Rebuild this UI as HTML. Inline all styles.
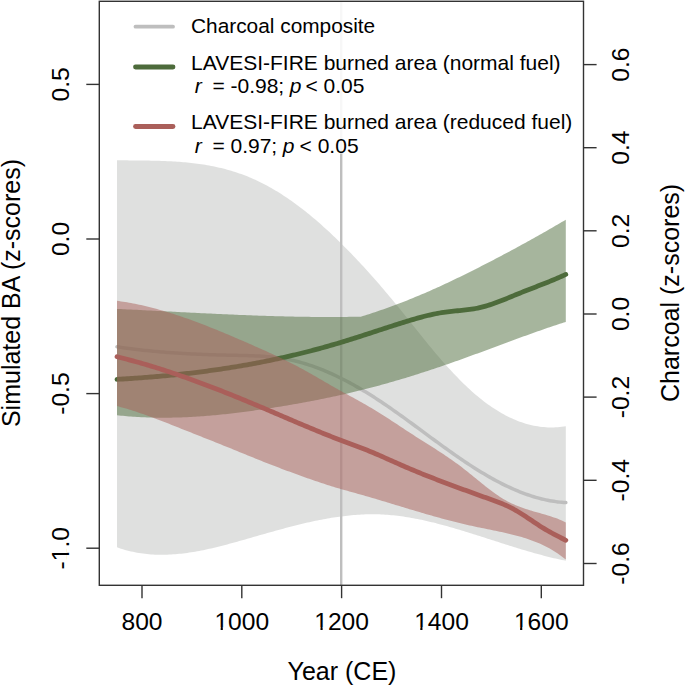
<!DOCTYPE html>
<html><head><meta charset="utf-8"><style>
html,body{margin:0;padding:0;background:#fff;width:685px;height:686px;overflow:hidden}
svg{display:block}
text{fill:#000;white-space:pre}
</style></head><body>
<svg width="685" height="686" viewBox="0 0 685 686"><path d="M117.00 160.21 L119.00 160.24 L121.01 160.27 L123.01 160.30 L125.01 160.33 L127.02 160.35 L129.02 160.38 L131.03 160.40 L133.03 160.42 L135.03 160.44 L137.04 160.46 L139.04 160.48 L141.04 160.51 L143.05 160.53 L145.05 160.56 L147.05 160.59 L149.06 160.62 L151.06 160.66 L153.06 160.70 L155.07 160.75 L157.07 160.80 L159.07 160.86 L161.08 160.92 L163.08 160.99 L165.09 161.07 L167.09 161.16 L169.09 161.25 L171.10 161.35 L173.10 161.47 L175.10 161.59 L177.11 161.72 L179.11 161.86 L181.11 162.01 L183.12 162.17 L185.12 162.35 L187.12 162.54 L189.13 162.74 L191.13 162.95 L193.14 163.18 L195.14 163.43 L197.14 163.68 L199.15 163.96 L201.15 164.25 L203.15 164.55 L205.16 164.87 L207.16 165.21 L209.16 165.57 L211.17 165.95 L213.17 166.34 L215.18 166.75 L217.18 167.19 L219.18 167.64 L221.19 168.11 L223.19 168.61 L225.19 169.12 L227.20 169.66 L229.20 170.22 L231.20 170.81 L233.21 171.41 L235.21 172.05 L237.21 172.70 L239.22 173.38 L241.22 174.09 L243.22 174.82 L245.23 175.58 L247.23 176.37 L249.24 177.18 L251.24 178.02 L253.24 178.89 L255.25 179.79 L257.25 180.72 L259.25 181.67 L261.26 182.66 L263.26 183.68 L265.26 184.72 L267.27 185.80 L269.27 186.90 L271.27 188.03 L273.28 189.19 L275.28 190.38 L277.29 191.59 L279.29 192.83 L281.29 194.10 L283.30 195.40 L285.30 196.72 L287.30 198.07 L289.31 199.45 L291.31 200.85 L293.31 202.28 L295.32 203.73 L297.32 205.21 L299.32 206.72 L301.33 208.24 L303.33 209.80 L305.34 211.37 L307.34 212.98 L309.34 214.60 L311.35 216.25 L313.35 217.92 L315.35 219.62 L317.36 221.34 L319.36 223.08 L321.36 224.84 L323.37 226.63 L325.37 228.43 L327.38 230.26 L329.38 232.11 L331.38 233.98 L333.39 235.88 L335.39 237.79 L337.39 239.72 L339.40 241.68 L341.40 243.65 L343.40 245.64 L345.41 247.65 L347.41 249.69 L349.41 251.74 L351.42 253.81 L353.42 255.90 L355.43 258.00 L357.43 260.13 L359.43 262.27 L361.44 264.43 L363.44 266.61 L365.44 268.80 L367.45 271.01 L369.45 273.24 L371.45 275.48 L373.46 277.74 L375.46 280.02 L377.46 282.31 L379.47 284.62 L381.47 286.95 L383.48 289.28 L385.48 291.64 L387.48 294.01 L389.49 296.40 L391.49 298.80 L393.49 301.21 L395.50 303.64 L397.50 306.09 L399.50 308.55 L401.51 311.02 L403.51 313.50 L405.51 315.99 L407.52 318.49 L409.52 321.00 L411.52 323.51 L413.53 326.03 L415.53 328.55 L417.54 331.06 L419.54 333.57 L421.54 336.08 L423.55 338.56 L425.55 341.04 L427.55 343.49 L429.56 345.93 L431.56 348.35 L433.56 350.75 L435.57 353.13 L437.57 355.49 L439.57 357.82 L441.58 360.13 L443.58 362.41 L445.59 364.67 L447.59 366.90 L449.59 369.10 L451.60 371.27 L453.60 373.42 L455.60 375.53 L457.61 377.60 L459.61 379.65 L461.61 381.66 L463.62 383.63 L465.62 385.57 L467.62 387.47 L469.63 389.33 L471.63 391.15 L473.64 392.93 L475.64 394.66 L477.64 396.36 L479.65 398.01 L481.65 399.61 L483.65 401.18 L485.66 402.69 L487.66 404.17 L489.66 405.60 L491.67 406.98 L493.67 408.32 L495.68 409.62 L497.68 410.87 L499.68 412.07 L501.69 413.24 L503.69 414.35 L505.69 415.42 L507.70 416.45 L509.70 417.43 L511.70 418.37 L513.71 419.26 L515.71 420.10 L517.71 420.90 L519.72 421.65 L521.72 422.36 L523.73 423.02 L525.73 423.64 L527.73 424.21 L529.74 424.74 L531.74 425.22 L533.74 425.65 L535.75 426.03 L537.75 426.37 L539.75 426.67 L541.76 426.92 L543.76 427.12 L545.76 427.27 L547.77 427.38 L549.77 427.44 L551.77 427.45 L553.78 427.42 L555.78 427.34 L557.79 427.22 L559.79 427.04 L561.79 426.82 L563.80 426.55 L565.80 426.24 L565.80 560.77 L563.80 560.36 L561.79 559.94 L559.79 559.50 L557.79 559.05 L555.78 558.60 L553.78 558.13 L551.77 557.65 L549.77 557.16 L547.77 556.66 L545.76 556.15 L543.76 555.63 L541.76 555.10 L539.75 554.56 L537.75 554.02 L535.75 553.46 L533.74 552.90 L531.74 552.33 L529.74 551.76 L527.73 551.17 L525.73 550.59 L523.73 549.99 L521.72 549.39 L519.72 548.79 L517.71 548.18 L515.71 547.56 L513.71 546.94 L511.70 546.32 L509.70 545.69 L507.70 545.06 L505.69 544.43 L503.69 543.79 L501.69 543.15 L499.68 542.51 L497.68 541.87 L495.68 541.23 L493.67 540.59 L491.67 539.94 L489.66 539.30 L487.66 538.65 L485.66 538.01 L483.65 537.37 L481.65 536.72 L479.65 536.08 L477.64 535.44 L475.64 534.81 L473.64 534.17 L471.63 533.54 L469.63 532.91 L467.62 532.29 L465.62 531.67 L463.62 531.05 L461.61 530.44 L459.61 529.84 L457.61 529.24 L455.60 528.64 L453.60 528.06 L451.60 527.47 L449.59 526.90 L447.59 526.34 L445.59 525.78 L443.58 525.23 L441.58 524.69 L439.57 524.16 L437.57 523.63 L435.57 523.12 L433.56 522.62 L431.56 522.13 L429.56 521.65 L427.55 521.18 L425.55 520.72 L423.55 520.28 L421.54 519.84 L419.54 519.42 L417.54 519.02 L415.53 518.63 L413.53 518.25 L411.52 517.88 L409.52 517.54 L407.52 517.20 L405.51 516.89 L403.51 516.58 L401.51 516.30 L399.50 516.03 L397.50 515.78 L395.50 515.55 L393.49 515.33 L391.49 515.13 L389.49 514.96 L387.48 514.80 L385.48 514.66 L383.48 514.54 L381.47 514.44 L379.47 514.36 L377.46 514.30 L375.46 514.26 L373.46 514.25 L371.45 514.25 L369.45 514.27 L367.45 514.31 L365.44 514.36 L363.44 514.44 L361.44 514.53 L359.43 514.65 L357.43 514.77 L355.43 514.92 L353.42 515.08 L351.42 515.26 L349.41 515.45 L347.41 515.66 L345.41 515.89 L343.40 516.13 L341.40 516.38 L339.40 516.65 L337.39 516.93 L335.39 517.23 L333.39 517.54 L331.38 517.86 L329.38 518.19 L327.38 518.54 L325.37 518.90 L323.37 519.27 L321.36 519.65 L319.36 520.04 L317.36 520.45 L315.35 520.86 L313.35 521.29 L311.35 521.72 L309.34 522.17 L307.34 522.62 L305.34 523.08 L303.33 523.55 L301.33 524.03 L299.32 524.51 L297.32 525.01 L295.32 525.51 L293.31 526.01 L291.31 526.53 L289.31 527.05 L287.30 527.57 L285.30 528.10 L283.30 528.64 L281.29 529.18 L279.29 529.73 L277.29 530.28 L275.28 530.83 L273.28 531.39 L271.27 531.95 L269.27 532.51 L267.27 533.08 L265.26 533.65 L263.26 534.22 L261.26 534.79 L259.25 535.37 L257.25 535.94 L255.25 536.52 L253.24 537.09 L251.24 537.67 L249.24 538.24 L247.23 538.82 L245.23 539.39 L243.22 539.96 L241.22 540.53 L239.22 541.10 L237.21 541.66 L235.21 542.22 L233.21 542.77 L231.20 543.32 L229.20 543.87 L227.20 544.40 L225.19 544.93 L223.19 545.45 L221.19 545.97 L219.18 546.47 L217.18 546.97 L215.18 547.45 L213.17 547.93 L211.17 548.39 L209.16 548.84 L207.16 549.29 L205.16 549.71 L203.15 550.13 L201.15 550.53 L199.15 550.92 L197.14 551.29 L195.14 551.64 L193.14 551.98 L191.13 552.31 L189.13 552.61 L187.12 552.90 L185.12 553.17 L183.12 553.42 L181.11 553.65 L179.11 553.87 L177.11 554.06 L175.10 554.23 L173.10 554.37 L171.10 554.50 L169.09 554.60 L167.09 554.68 L165.09 554.73 L163.08 554.76 L161.08 554.77 L159.07 554.75 L157.07 554.70 L155.07 554.63 L153.06 554.52 L151.06 554.39 L149.06 554.24 L147.05 554.05 L145.05 553.83 L143.05 553.58 L141.04 553.30 L139.04 552.99 L137.04 552.65 L135.03 552.28 L133.03 551.87 L131.03 551.43 L129.02 550.95 L127.02 550.44 L125.01 549.89 L123.01 549.31 L121.01 548.69 L119.00 548.03 L117.00 547.34 Z" fill="#bfc1bf" fill-opacity="0.5"/>
<line x1="341.2" y1="153.3" x2="341.2" y2="585" stroke="#bebebe" stroke-width="2.4"/>
<line x1="341.2" y1="2" x2="341.2" y2="153.3" stroke="#f7f7f7" stroke-width="2.4"/>
<path d="M117.00 346.79 L119.00 347.09 L121.01 347.39 L123.01 347.67 L125.01 347.95 L127.02 348.23 L129.02 348.49 L131.03 348.75 L133.03 349.01 L135.03 349.25 L137.04 349.49 L139.04 349.73 L141.04 349.95 L143.05 350.18 L145.05 350.39 L147.05 350.60 L149.06 350.81 L151.06 351.00 L153.06 351.20 L155.07 351.38 L157.07 351.56 L159.07 351.74 L161.08 351.91 L163.08 352.08 L165.09 352.24 L167.09 352.39 L169.09 352.54 L171.10 352.69 L173.10 352.83 L175.10 352.96 L177.11 353.09 L179.11 353.22 L181.11 353.34 L183.12 353.46 L185.12 353.57 L187.12 353.68 L189.13 353.79 L191.13 353.89 L193.14 353.99 L195.14 354.08 L197.14 354.17 L199.15 354.26 L201.15 354.34 L203.15 354.42 L205.16 354.50 L207.16 354.57 L209.16 354.64 L211.17 354.71 L213.17 354.77 L215.18 354.83 L217.18 354.89 L219.18 354.95 L221.19 355.00 L223.19 355.05 L225.19 355.10 L227.20 355.14 L229.20 355.19 L231.20 355.23 L233.21 355.27 L235.21 355.31 L237.21 355.35 L239.22 355.39 L241.22 355.43 L243.22 355.48 L245.23 355.53 L247.23 355.59 L249.24 355.65 L251.24 355.72 L253.24 355.80 L255.25 355.88 L257.25 355.98 L259.25 356.09 L261.26 356.21 L263.26 356.34 L265.26 356.49 L267.27 356.65 L269.27 356.83 L271.27 357.03 L273.28 357.24 L275.28 357.47 L277.29 357.72 L279.29 357.99 L281.29 358.29 L283.30 358.60 L285.30 358.94 L287.30 359.31 L289.31 359.70 L291.31 360.12 L293.31 360.56 L295.32 361.03 L297.32 361.53 L299.32 362.05 L301.33 362.60 L303.33 363.17 L305.34 363.77 L307.34 364.39 L309.34 365.04 L311.35 365.71 L313.35 366.40 L315.35 367.12 L317.36 367.86 L319.36 368.63 L321.36 369.41 L323.37 370.22 L325.37 371.05 L327.38 371.91 L329.38 372.78 L331.38 373.68 L333.39 374.59 L335.39 375.53 L337.39 376.49 L339.40 377.46 L341.40 378.46 L343.40 379.48 L345.41 380.51 L347.41 381.57 L349.41 382.64 L351.42 383.73 L353.42 384.84 L355.43 385.97 L357.43 387.11 L359.43 388.27 L361.44 389.45 L363.44 390.64 L365.44 391.85 L367.45 393.08 L369.45 394.32 L371.45 395.58 L373.46 396.85 L375.46 398.13 L377.46 399.44 L379.47 400.75 L381.47 402.08 L383.48 403.42 L385.48 404.78 L387.48 406.15 L389.49 407.52 L391.49 408.91 L393.49 410.32 L395.50 411.73 L397.50 413.15 L399.50 414.57 L401.51 416.01 L403.51 417.45 L405.51 418.90 L407.52 420.36 L409.52 421.82 L411.52 423.28 L413.53 424.75 L415.53 426.22 L417.54 427.70 L419.54 429.17 L421.54 430.65 L423.55 432.13 L425.55 433.61 L427.55 435.09 L429.56 436.56 L431.56 438.04 L433.56 439.51 L435.57 440.98 L437.57 442.44 L439.57 443.91 L441.58 445.36 L443.58 446.81 L445.59 448.26 L447.59 449.69 L449.59 451.12 L451.60 452.54 L453.60 453.95 L455.60 455.36 L457.61 456.75 L459.61 458.13 L461.61 459.50 L463.62 460.86 L465.62 462.20 L467.62 463.53 L469.63 464.85 L471.63 466.15 L473.64 467.44 L475.64 468.71 L477.64 469.96 L479.65 471.20 L481.65 472.42 L483.65 473.62 L485.66 474.81 L487.66 475.97 L489.66 477.12 L491.67 478.25 L493.67 479.35 L495.68 480.44 L497.68 481.51 L499.68 482.55 L501.69 483.58 L503.69 484.58 L505.69 485.56 L507.70 486.51 L509.70 487.45 L511.70 488.36 L513.71 489.25 L515.71 490.11 L517.71 490.95 L519.72 491.76 L521.72 492.55 L523.73 493.31 L525.73 494.04 L527.73 494.75 L529.74 495.43 L531.74 496.09 L533.74 496.71 L535.75 497.31 L537.75 497.88 L539.75 498.42 L541.76 498.93 L543.76 499.41 L545.76 499.86 L547.77 500.28 L549.77 500.67 L551.77 501.02 L553.78 501.35 L555.78 501.64 L557.79 501.90 L559.79 502.13 L561.79 502.32 L563.80 502.48 L565.80 502.61" fill="none" stroke="#bebebe" stroke-width="3.5" stroke-linecap="round" stroke-linejoin="round"/>
<path d="M117.00 308.90 L119.00 308.99 L121.00 309.09 L123.00 309.18 L125.00 309.28 L127.00 309.38 L129.00 309.47 L130.99 309.57 L132.99 309.67 L134.99 309.77 L136.99 309.87 L138.99 309.97 L140.99 310.07 L142.99 310.17 L144.99 310.27 L146.99 310.38 L148.99 310.48 L150.99 310.58 L152.99 310.68 L154.98 310.79 L156.98 310.89 L158.98 310.99 L160.98 311.10 L162.98 311.20 L164.98 311.30 L166.98 311.41 L168.98 311.51 L170.98 311.61 L172.98 311.72 L174.98 311.82 L176.98 311.92 L178.97 312.02 L180.97 312.13 L182.97 312.23 L184.97 312.33 L186.97 312.43 L188.97 312.53 L190.97 312.64 L192.97 312.74 L194.97 312.84 L196.97 312.94 L198.97 313.04 L200.97 313.14 L202.96 313.23 L204.96 313.33 L206.96 313.43 L208.96 313.53 L210.96 313.62 L212.96 313.72 L214.96 313.81 L216.96 313.90 L218.96 314.00 L220.96 314.09 L222.96 314.18 L224.96 314.27 L226.95 314.36 L228.95 314.45 L230.95 314.54 L232.95 314.62 L234.95 314.71 L236.95 314.79 L238.95 314.88 L240.95 314.96 L242.95 315.04 L244.95 315.12 L246.95 315.20 L248.95 315.27 L250.95 315.35 L252.94 315.43 L254.94 315.50 L256.94 315.57 L258.94 315.64 L260.94 315.71 L262.94 315.78 L264.94 315.84 L266.94 315.91 L268.94 315.97 L270.94 316.03 L272.94 316.09 L274.94 316.15 L276.93 316.21 L278.93 316.26 L280.93 316.32 L282.93 316.37 L284.93 316.42 L286.93 316.46 L288.93 316.51 L290.93 316.55 L292.93 316.59 L294.93 316.63 L296.93 316.67 L298.93 316.71 L300.92 316.74 L302.92 316.77 L304.92 316.80 L306.92 316.83 L308.92 316.86 L310.92 316.88 L312.92 316.90 L314.92 316.92 L316.92 316.94 L318.92 316.95 L320.92 316.96 L322.92 316.97 L324.91 316.98 L326.91 316.98 L328.91 316.98 L330.91 316.98 L332.91 316.98 L334.91 316.97 L336.91 316.96 L338.91 316.95 L340.91 316.94 L342.91 316.92 L344.91 316.90 L346.91 316.88 L348.90 316.86 L350.90 316.83 L352.90 316.80 L354.90 316.77 L356.90 316.73 L358.90 316.69 L360.90 316.65 L362.91 316.03 L364.92 315.41 L366.93 314.77 L368.94 314.13 L370.94 313.48 L372.95 312.82 L374.96 312.15 L376.97 311.48 L378.98 310.79 L380.99 310.10 L383.00 309.40 L385.01 308.69 L387.01 307.98 L389.02 307.25 L391.03 306.52 L393.04 305.78 L395.05 305.03 L397.06 304.28 L399.07 303.51 L401.08 302.74 L403.09 301.96 L405.09 301.17 L407.10 300.38 L409.11 299.57 L411.12 298.76 L413.13 297.95 L415.14 297.12 L417.15 296.29 L419.16 295.44 L421.16 294.60 L423.17 293.74 L425.18 292.88 L427.19 292.00 L429.20 291.13 L431.21 290.24 L433.22 289.35 L435.23 288.45 L437.24 287.54 L439.24 286.63 L441.25 285.71 L443.26 284.78 L445.27 283.85 L447.28 282.91 L449.29 281.96 L451.30 281.01 L453.31 280.05 L455.31 279.09 L457.32 278.12 L459.33 277.15 L461.34 276.17 L463.35 275.18 L465.36 274.19 L467.37 273.20 L469.38 272.20 L471.39 271.20 L473.39 270.19 L475.40 269.18 L477.41 268.16 L479.42 267.14 L481.43 266.12 L483.44 265.09 L485.45 264.06 L487.46 263.02 L489.46 261.98 L491.47 260.94 L493.48 259.89 L495.49 258.84 L497.50 257.79 L499.51 256.73 L501.52 255.67 L503.53 254.60 L505.54 253.53 L507.54 252.46 L509.55 251.38 L511.56 250.30 L513.57 249.22 L515.58 248.13 L517.59 247.04 L519.60 245.94 L521.61 244.85 L523.61 243.74 L525.62 242.64 L527.63 241.53 L529.64 240.42 L531.65 239.30 L533.66 238.18 L535.67 237.06 L537.68 235.93 L539.69 234.80 L541.69 233.66 L543.70 232.53 L545.71 231.38 L547.72 230.24 L549.73 229.09 L551.74 227.94 L553.75 226.78 L555.76 225.62 L557.76 224.46 L559.77 223.29 L561.78 222.12 L563.79 220.95 L565.80 219.77 L565.80 321.90 L563.80 322.54 L561.79 323.19 L559.79 323.84 L557.79 324.50 L555.78 325.16 L553.78 325.83 L551.77 326.50 L549.77 327.18 L547.77 327.86 L545.76 328.55 L543.76 329.24 L541.76 329.94 L539.75 330.64 L537.75 331.34 L535.75 332.05 L533.74 332.76 L531.74 333.47 L529.74 334.19 L527.73 334.91 L525.73 335.63 L523.73 336.36 L521.72 337.09 L519.72 337.82 L517.71 338.55 L515.71 339.29 L513.71 340.02 L511.70 340.76 L509.70 341.50 L507.70 342.24 L505.69 342.98 L503.69 343.73 L501.69 344.47 L499.68 345.21 L497.68 345.96 L495.68 346.70 L493.67 347.45 L491.67 348.19 L489.66 348.94 L487.66 349.68 L485.66 350.42 L483.65 351.16 L481.65 351.90 L479.65 352.64 L477.64 353.38 L475.64 354.12 L473.64 354.85 L471.63 355.58 L469.63 356.31 L467.62 357.04 L465.62 357.77 L463.62 358.49 L461.61 359.21 L459.61 359.93 L457.61 360.64 L455.60 361.35 L453.60 362.06 L451.60 362.76 L449.59 363.46 L447.59 364.16 L445.59 364.85 L443.58 365.54 L441.58 366.23 L439.57 366.91 L437.57 367.59 L435.57 368.26 L433.56 368.93 L431.56 369.60 L429.56 370.26 L427.55 370.92 L425.55 371.57 L423.55 372.22 L421.54 372.87 L419.54 373.51 L417.54 374.15 L415.53 374.78 L413.53 375.41 L411.52 376.04 L409.52 376.66 L407.52 377.27 L405.51 377.88 L403.51 378.49 L401.51 379.09 L399.50 379.69 L397.50 380.28 L395.50 380.87 L393.49 381.45 L391.49 382.03 L389.49 382.61 L387.48 383.18 L385.48 383.74 L383.48 384.30 L381.47 384.85 L379.47 385.40 L377.46 385.94 L375.46 386.48 L373.46 387.01 L371.45 387.54 L369.45 388.06 L367.45 388.58 L365.44 389.09 L363.44 389.60 L361.44 390.10 L359.43 390.60 L357.43 391.09 L355.43 391.57 L353.42 392.05 L351.42 392.53 L349.41 393.00 L347.41 393.46 L345.41 393.93 L343.40 394.38 L341.40 394.83 L339.40 395.28 L337.39 395.72 L335.39 396.16 L333.39 396.59 L331.38 397.02 L329.38 397.44 L327.38 397.86 L325.37 398.28 L323.37 398.69 L321.36 399.09 L319.36 399.49 L317.36 399.89 L315.35 400.28 L313.35 400.67 L311.35 401.06 L309.34 401.44 L307.34 401.82 L305.34 402.19 L303.33 402.56 L301.33 402.92 L299.32 403.29 L297.32 403.64 L295.32 404.00 L293.31 404.35 L291.31 404.70 L289.31 405.04 L287.30 405.38 L285.30 405.71 L283.30 406.05 L281.29 406.38 L279.29 406.70 L277.29 407.03 L275.28 407.35 L273.28 407.66 L271.27 407.98 L269.27 408.29 L267.27 408.59 L265.26 408.90 L263.26 409.20 L261.26 409.49 L259.25 409.79 L257.25 410.08 L255.25 410.36 L253.24 410.65 L251.24 410.92 L249.24 411.20 L247.23 411.47 L245.23 411.73 L243.22 412.00 L241.22 412.25 L239.22 412.51 L237.21 412.75 L235.21 413.00 L233.21 413.24 L231.20 413.47 L229.20 413.70 L227.20 413.92 L225.19 414.14 L223.19 414.35 L221.19 414.56 L219.18 414.76 L217.18 414.96 L215.18 415.15 L213.17 415.33 L211.17 415.51 L209.16 415.68 L207.16 415.85 L205.16 416.01 L203.15 416.16 L201.15 416.31 L199.15 416.45 L197.14 416.58 L195.14 416.71 L193.14 416.82 L191.13 416.94 L189.13 417.04 L187.12 417.14 L185.12 417.23 L183.12 417.32 L181.11 417.39 L179.11 417.46 L177.11 417.52 L175.10 417.57 L173.10 417.62 L171.10 417.65 L169.09 417.68 L167.09 417.70 L165.09 417.72 L163.08 417.72 L161.08 417.71 L159.07 417.70 L157.07 417.68 L155.07 417.65 L153.06 417.61 L151.06 417.56 L149.06 417.50 L147.05 417.43 L145.05 417.35 L143.05 417.27 L141.04 417.17 L139.04 417.06 L137.04 416.95 L135.03 416.82 L133.03 416.69 L131.03 416.54 L129.02 416.38 L127.02 416.22 L125.01 416.04 L123.01 415.85 L121.01 415.66 L119.00 415.45 L117.00 415.23 Z" fill="#4d6b3b" fill-opacity="0.5"/>
<path d="M117.00 379.34 L119.00 379.22 L121.01 379.11 L123.01 378.99 L125.01 378.87 L127.02 378.74 L129.02 378.61 L131.03 378.48 L133.03 378.35 L135.03 378.21 L137.04 378.07 L139.04 377.93 L141.04 377.78 L143.05 377.63 L145.05 377.48 L147.05 377.32 L149.06 377.16 L151.06 377.00 L153.06 376.84 L155.07 376.67 L157.07 376.50 L159.07 376.32 L161.08 376.14 L163.08 375.96 L165.09 375.77 L167.09 375.58 L169.09 375.39 L171.10 375.19 L173.10 374.99 L175.10 374.79 L177.11 374.58 L179.11 374.37 L181.11 374.16 L183.12 373.94 L185.12 373.72 L187.12 373.49 L189.13 373.26 L191.13 373.03 L193.14 372.79 L195.14 372.55 L197.14 372.30 L199.15 372.05 L201.15 371.80 L203.15 371.54 L205.16 371.28 L207.16 371.01 L209.16 370.74 L211.17 370.46 L213.17 370.19 L215.18 369.90 L217.18 369.62 L219.18 369.32 L221.19 369.03 L223.19 368.73 L225.19 368.42 L227.20 368.11 L229.20 367.80 L231.20 367.48 L233.21 367.16 L235.21 366.83 L237.21 366.50 L239.22 366.16 L241.22 365.82 L243.22 365.47 L245.23 365.12 L247.23 364.77 L249.24 364.41 L251.24 364.04 L253.24 363.67 L255.25 363.30 L257.25 362.92 L259.25 362.53 L261.26 362.14 L263.26 361.75 L265.26 361.35 L267.27 360.94 L269.27 360.53 L271.27 360.12 L273.28 359.70 L275.28 359.27 L277.29 358.84 L279.29 358.40 L281.29 357.96 L283.30 357.52 L285.30 357.06 L287.30 356.61 L289.31 356.14 L291.31 355.68 L293.31 355.20 L295.32 354.72 L297.32 354.24 L299.32 353.75 L301.33 353.25 L303.33 352.75 L305.34 352.25 L307.34 351.74 L309.34 351.22 L311.35 350.70 L313.35 350.17 L315.35 349.64 L317.36 349.10 L319.36 348.56 L321.36 348.01 L323.37 347.45 L325.37 346.90 L327.38 346.33 L329.38 345.76 L331.38 345.18 L333.39 344.60 L335.39 344.02 L337.39 343.43 L339.40 342.83 L341.40 342.23 L343.40 341.62 L345.41 341.01 L347.41 340.39 L349.41 339.76 L351.42 339.14 L353.42 338.51 L355.43 337.87 L357.43 337.23 L359.43 336.59 L361.44 335.95 L363.44 335.30 L365.44 334.65 L367.45 334.01 L369.45 333.35 L371.45 332.70 L373.46 332.05 L375.46 331.39 L377.46 330.74 L379.47 330.09 L381.47 329.43 L383.48 328.78 L385.48 328.13 L387.48 327.48 L389.49 326.83 L391.49 326.18 L393.49 325.54 L395.50 324.90 L397.50 324.26 L399.50 323.63 L401.51 323.00 L403.51 322.37 L405.51 321.75 L407.52 321.13 L409.52 320.52 L411.52 319.92 L413.53 319.33 L415.53 318.74 L417.54 318.17 L419.54 317.62 L421.54 317.07 L423.55 316.54 L425.55 316.03 L427.55 315.54 L429.56 315.06 L431.56 314.60 L433.56 314.17 L435.57 313.75 L437.57 313.36 L439.57 313.00 L441.58 312.66 L443.58 312.34 L445.59 312.06 L447.59 311.80 L449.59 311.56 L451.60 311.34 L453.60 311.14 L455.60 310.94 L457.61 310.75 L459.61 310.56 L461.61 310.37 L463.62 310.17 L465.62 309.95 L467.62 309.71 L469.63 309.46 L471.63 309.17 L473.64 308.86 L475.64 308.51 L477.64 308.12 L479.65 307.68 L481.65 307.20 L483.65 306.68 L485.66 306.12 L487.66 305.52 L489.66 304.88 L491.67 304.22 L493.67 303.53 L495.68 302.81 L497.68 302.07 L499.68 301.30 L501.69 300.52 L503.69 299.73 L505.69 298.92 L507.70 298.11 L509.70 297.28 L511.70 296.46 L513.71 295.63 L515.71 294.80 L517.71 293.98 L519.72 293.16 L521.72 292.36 L523.73 291.56 L525.73 290.77 L527.73 289.99 L529.74 289.21 L531.74 288.43 L533.74 287.66 L535.75 286.89 L537.75 286.11 L539.75 285.33 L541.76 284.55 L543.76 283.77 L545.76 282.98 L547.77 282.18 L549.77 281.37 L551.77 280.55 L553.78 279.71 L555.78 278.87 L557.79 278.01 L559.79 277.13 L561.79 276.24 L563.80 275.32 L565.80 274.39" fill="none" stroke="#4d6b3b" stroke-width="4.8" stroke-linecap="round" stroke-linejoin="round"/>
<path d="M117.00 300.86 L119.00 301.12 L121.01 301.41 L123.01 301.71 L125.01 302.02 L127.02 302.35 L129.02 302.70 L131.03 303.06 L133.03 303.44 L135.03 303.83 L137.04 304.24 L139.04 304.67 L141.04 305.10 L143.05 305.55 L145.05 306.02 L147.05 306.50 L149.06 306.99 L151.06 307.49 L153.06 308.01 L155.07 308.54 L157.07 309.09 L159.07 309.64 L161.08 310.21 L163.08 310.79 L165.09 311.38 L167.09 311.99 L169.09 312.60 L171.10 313.23 L173.10 313.86 L175.10 314.51 L177.11 315.17 L179.11 315.83 L181.11 316.51 L183.12 317.20 L185.12 317.89 L187.12 318.60 L189.13 319.31 L191.13 320.03 L193.14 320.76 L195.14 321.50 L197.14 322.25 L199.15 323.01 L201.15 323.77 L203.15 324.54 L205.16 325.32 L207.16 326.10 L209.16 326.89 L211.17 327.69 L213.17 328.49 L215.18 329.30 L217.18 330.11 L219.18 330.93 L221.19 331.76 L223.19 332.59 L225.19 333.42 L227.20 334.26 L229.20 335.11 L231.20 335.96 L233.21 336.81 L235.21 337.66 L237.21 338.52 L239.22 339.39 L241.22 340.25 L243.22 341.12 L245.23 341.99 L247.23 342.86 L249.24 343.74 L251.24 344.62 L253.24 345.50 L255.25 346.38 L257.25 347.27 L259.25 348.16 L261.26 349.05 L263.26 349.95 L265.26 350.86 L267.27 351.77 L269.27 352.69 L271.27 353.61 L273.28 354.54 L275.28 355.48 L277.29 356.42 L279.29 357.37 L281.29 358.34 L283.30 359.30 L285.30 360.28 L287.30 361.27 L289.31 362.27 L291.31 363.28 L293.31 364.30 L295.32 365.33 L297.32 366.37 L299.32 367.42 L301.33 368.49 L303.33 369.56 L305.34 370.66 L307.34 371.76 L309.34 372.88 L311.35 374.01 L313.35 375.16 L315.35 376.31 L317.36 377.47 L319.36 378.64 L321.36 379.82 L323.37 380.99 L325.37 382.17 L327.38 383.34 L329.38 384.51 L331.38 385.67 L333.39 386.82 L335.39 387.97 L337.39 389.09 L339.40 390.21 L341.40 391.31 L343.40 392.40 L345.41 393.49 L347.41 394.57 L349.41 395.65 L351.42 396.73 L353.42 397.82 L355.43 398.91 L357.43 400.02 L359.43 401.14 L361.44 402.27 L363.44 403.42 L365.44 404.57 L367.45 405.74 L369.45 406.93 L371.45 408.12 L373.46 409.33 L375.46 410.55 L377.46 411.77 L379.47 413.01 L381.47 414.26 L383.48 415.52 L385.48 416.79 L387.48 418.07 L389.49 419.36 L391.49 420.66 L393.49 421.96 L395.50 423.28 L397.50 424.60 L399.50 425.92 L401.51 427.25 L403.51 428.57 L405.51 429.89 L407.52 431.21 L409.52 432.52 L411.52 433.82 L413.53 435.11 L415.53 436.39 L417.54 437.66 L419.54 438.94 L421.54 440.20 L423.55 441.47 L425.55 442.73 L427.55 444.00 L429.56 445.27 L431.56 446.54 L433.56 447.82 L435.57 449.11 L437.57 450.40 L439.57 451.70 L441.58 453.02 L443.58 454.35 L445.59 455.69 L447.59 457.05 L449.59 458.42 L451.60 459.82 L453.60 461.23 L455.60 462.66 L457.61 464.12 L459.61 465.61 L461.61 467.12 L463.62 468.65 L465.62 470.22 L467.62 471.80 L469.63 473.41 L471.63 475.03 L473.64 476.67 L475.64 478.31 L477.64 479.95 L479.65 481.58 L481.65 483.21 L483.65 484.83 L485.66 486.43 L487.66 488.01 L489.66 489.56 L491.67 491.08 L493.67 492.56 L495.68 493.99 L497.68 495.37 L499.68 496.68 L501.69 497.94 L503.69 499.14 L505.69 500.29 L507.70 501.38 L509.70 502.42 L511.70 503.40 L513.71 504.34 L515.71 505.22 L517.71 506.05 L519.72 506.84 L521.72 507.58 L523.73 508.28 L525.73 508.95 L527.73 509.60 L529.74 510.21 L531.74 510.81 L533.74 511.39 L535.75 511.96 L537.75 512.53 L539.75 513.09 L541.76 513.66 L543.76 514.24 L545.76 514.82 L547.77 515.43 L549.77 516.05 L551.77 516.70 L553.78 517.39 L555.78 518.10 L557.79 518.86 L559.79 519.66 L561.79 520.52 L563.80 521.42 L565.80 522.38 L565.80 559.56 L563.80 557.94 L561.79 556.39 L559.79 554.92 L557.79 553.52 L555.78 552.18 L553.78 550.91 L551.77 549.70 L549.77 548.55 L547.77 547.46 L545.76 546.42 L543.76 545.43 L541.76 544.49 L539.75 543.59 L537.75 542.74 L535.75 541.92 L533.74 541.15 L531.74 540.41 L529.74 539.70 L527.73 539.01 L525.73 538.36 L523.73 537.73 L521.72 537.12 L519.72 536.54 L517.71 535.98 L515.71 535.43 L513.71 534.91 L511.70 534.40 L509.70 533.91 L507.70 533.43 L505.69 532.97 L503.69 532.51 L501.69 532.07 L499.68 531.64 L497.68 531.22 L495.68 530.80 L493.67 530.39 L491.67 529.98 L489.66 529.58 L487.66 529.18 L485.66 528.78 L483.65 528.37 L481.65 527.97 L479.65 527.56 L477.64 527.15 L475.64 526.73 L473.64 526.30 L471.63 525.87 L469.63 525.43 L467.62 524.98 L465.62 524.52 L463.62 524.05 L461.61 523.57 L459.61 523.09 L457.61 522.59 L455.60 522.09 L453.60 521.59 L451.60 521.07 L449.59 520.55 L447.59 520.03 L445.59 519.50 L443.58 518.96 L441.58 518.41 L439.57 517.86 L437.57 517.31 L435.57 516.75 L433.56 516.18 L431.56 515.62 L429.56 515.04 L427.55 514.47 L425.55 513.89 L423.55 513.30 L421.54 512.71 L419.54 512.12 L417.54 511.53 L415.53 510.94 L413.53 510.34 L411.52 509.74 L409.52 509.14 L407.52 508.53 L405.51 507.93 L403.51 507.32 L401.51 506.72 L399.50 506.11 L397.50 505.50 L395.50 504.90 L393.49 504.29 L391.49 503.68 L389.49 503.08 L387.48 502.47 L385.48 501.87 L383.48 501.26 L381.47 500.66 L379.47 500.06 L377.46 499.46 L375.46 498.87 L373.46 498.28 L371.45 497.69 L369.45 497.10 L367.45 496.52 L365.44 495.94 L363.44 495.36 L361.44 494.79 L359.43 494.22 L357.43 493.66 L355.43 493.10 L353.42 492.54 L351.42 491.98 L349.41 491.42 L347.41 490.86 L345.41 490.30 L343.40 489.73 L341.40 489.15 L339.40 488.57 L337.39 487.98 L335.39 487.38 L333.39 486.77 L331.38 486.15 L329.38 485.52 L327.38 484.89 L325.37 484.24 L323.37 483.59 L321.36 482.93 L319.36 482.27 L317.36 481.59 L315.35 480.91 L313.35 480.23 L311.35 479.53 L309.34 478.84 L307.34 478.13 L305.34 477.42 L303.33 476.71 L301.33 475.99 L299.32 475.27 L297.32 474.55 L295.32 473.82 L293.31 473.09 L291.31 472.35 L289.31 471.62 L287.30 470.88 L285.30 470.13 L283.30 469.38 L281.29 468.63 L279.29 467.87 L277.29 467.11 L275.28 466.35 L273.28 465.57 L271.27 464.80 L269.27 464.02 L267.27 463.23 L265.26 462.44 L263.26 461.64 L261.26 460.84 L259.25 460.04 L257.25 459.23 L255.25 458.42 L253.24 457.61 L251.24 456.80 L249.24 455.98 L247.23 455.16 L245.23 454.34 L243.22 453.53 L241.22 452.71 L239.22 451.89 L237.21 451.07 L235.21 450.25 L233.21 449.43 L231.20 448.62 L229.20 447.81 L227.20 446.99 L225.19 446.19 L223.19 445.38 L221.19 444.57 L219.18 443.77 L217.18 442.97 L215.18 442.16 L213.17 441.36 L211.17 440.56 L209.16 439.77 L207.16 438.97 L205.16 438.17 L203.15 437.38 L201.15 436.58 L199.15 435.78 L197.14 434.99 L195.14 434.19 L193.14 433.40 L191.13 432.61 L189.13 431.81 L187.12 431.01 L185.12 430.22 L183.12 429.42 L181.11 428.63 L179.11 427.83 L177.11 427.03 L175.10 426.23 L173.10 425.44 L171.10 424.65 L169.09 423.86 L167.09 423.07 L165.09 422.29 L163.08 421.51 L161.08 420.74 L159.07 419.97 L157.07 419.21 L155.07 418.45 L153.06 417.70 L151.06 416.96 L149.06 416.23 L147.05 415.50 L145.05 414.79 L143.05 414.08 L141.04 413.39 L139.04 412.70 L137.04 412.03 L135.03 411.37 L133.03 410.72 L131.03 410.09 L129.02 409.47 L127.02 408.86 L125.01 408.27 L123.01 407.70 L121.01 407.14 L119.00 406.59 L117.00 406.07 Z" fill="#aa5f5a" fill-opacity="0.5"/>
<path d="M117.00 356.76 L119.00 357.25 L121.01 357.75 L123.01 358.26 L125.01 358.77 L127.02 359.29 L129.02 359.82 L131.03 360.35 L133.03 360.89 L135.03 361.44 L137.04 362.00 L139.04 362.56 L141.04 363.14 L143.05 363.71 L145.05 364.30 L147.05 364.89 L149.06 365.49 L151.06 366.09 L153.06 366.71 L155.07 367.32 L157.07 367.95 L159.07 368.58 L161.08 369.22 L163.08 369.86 L165.09 370.51 L167.09 371.17 L169.09 371.83 L171.10 372.49 L173.10 373.17 L175.10 373.85 L177.11 374.53 L179.11 375.22 L181.11 375.92 L183.12 376.62 L185.12 377.32 L187.12 378.03 L189.13 378.75 L191.13 379.47 L193.14 380.20 L195.14 380.93 L197.14 381.66 L199.15 382.40 L201.15 383.15 L203.15 383.90 L205.16 384.65 L207.16 385.41 L209.16 386.17 L211.17 386.94 L213.17 387.71 L215.18 388.48 L217.18 389.26 L219.18 390.04 L221.19 390.83 L223.19 391.62 L225.19 392.41 L227.20 393.21 L229.20 394.01 L231.20 394.81 L233.21 395.62 L235.21 396.43 L237.21 397.24 L239.22 398.06 L241.22 398.88 L243.22 399.70 L245.23 400.53 L247.23 401.36 L249.24 402.19 L251.24 403.02 L253.24 403.85 L255.25 404.69 L257.25 405.53 L259.25 406.38 L261.26 407.22 L263.26 408.07 L265.26 408.91 L267.27 409.77 L269.27 410.62 L271.27 411.47 L273.28 412.33 L275.28 413.18 L277.29 414.04 L279.29 414.89 L281.29 415.75 L283.30 416.61 L285.30 417.47 L287.30 418.32 L289.31 419.18 L291.31 420.03 L293.31 420.89 L295.32 421.74 L297.32 422.59 L299.32 423.44 L301.33 424.29 L303.33 425.14 L305.34 425.98 L307.34 426.82 L309.34 427.66 L311.35 428.49 L313.35 429.32 L315.35 430.15 L317.36 430.98 L319.36 431.80 L321.36 432.61 L323.37 433.43 L325.37 434.23 L327.38 435.03 L329.38 435.83 L331.38 436.62 L333.39 437.41 L335.39 438.19 L337.39 438.97 L339.40 439.73 L341.40 440.50 L343.40 441.25 L345.41 442.00 L347.41 442.75 L349.41 443.49 L351.42 444.23 L353.42 444.97 L355.43 445.72 L357.43 446.47 L359.43 447.22 L361.44 447.99 L363.44 448.76 L365.44 449.55 L367.45 450.35 L369.45 451.16 L371.45 451.99 L373.46 452.83 L375.46 453.68 L377.46 454.55 L379.47 455.42 L381.47 456.29 L383.48 457.18 L385.48 458.07 L387.48 458.96 L389.49 459.85 L391.49 460.75 L393.49 461.64 L395.50 462.54 L397.50 463.43 L399.50 464.31 L401.51 465.19 L403.51 466.06 L405.51 466.93 L407.52 467.79 L409.52 468.64 L411.52 469.48 L413.53 470.32 L415.53 471.15 L417.54 471.97 L419.54 472.79 L421.54 473.60 L423.55 474.40 L425.55 475.20 L427.55 476.00 L429.56 476.79 L431.56 477.57 L433.56 478.35 L435.57 479.13 L437.57 479.90 L439.57 480.67 L441.58 481.43 L443.58 482.19 L445.59 482.95 L447.59 483.70 L449.59 484.45 L451.60 485.20 L453.60 485.94 L455.60 486.69 L457.61 487.43 L459.61 488.17 L461.61 488.90 L463.62 489.64 L465.62 490.37 L467.62 491.10 L469.63 491.83 L471.63 492.56 L473.64 493.29 L475.64 494.02 L477.64 494.74 L479.65 495.46 L481.65 496.18 L483.65 496.90 L485.66 497.61 L487.66 498.32 L489.66 499.04 L491.67 499.75 L493.67 500.47 L495.68 501.21 L497.68 501.96 L499.68 502.74 L501.69 503.54 L503.69 504.38 L505.69 505.25 L507.70 506.17 L509.70 507.14 L511.70 508.16 L513.71 509.23 L515.71 510.36 L517.71 511.52 L519.72 512.73 L521.72 513.98 L523.73 515.25 L525.73 516.56 L527.73 517.88 L529.74 519.23 L531.74 520.58 L533.74 521.93 L535.75 523.28 L537.75 524.61 L539.75 525.90 L541.76 527.17 L543.76 528.39 L545.76 529.58 L547.77 530.74 L549.77 531.88 L551.77 532.99 L553.78 534.07 L555.78 535.14 L557.79 536.18 L559.79 537.22 L561.79 538.24 L563.80 539.26 L565.80 540.27" fill="none" stroke="#aa5f5a" stroke-width="4.8" stroke-linecap="round" stroke-linejoin="round"/>
<rect x="99.3" y="1.3" width="484.2" height="584.0" fill="none" stroke="#333" stroke-width="1.4"/>
<text x="0" y="0" transform="translate(69.35 84.4) rotate(-90)" text-anchor="middle" font-size="24.6" font-family="'Liberation Sans', sans-serif">0.5</text>
<text x="0" y="0" transform="translate(69.35 239.0) rotate(-90)" text-anchor="middle" font-size="24.6" font-family="'Liberation Sans', sans-serif">0.0</text>
<text x="0" y="0" transform="translate(69.35 393.6) rotate(-90)" text-anchor="middle" font-size="24.6" font-family="'Liberation Sans', sans-serif">-0.5</text>
<text x="0" y="0" transform="translate(69.35 548.2) rotate(-90)" text-anchor="middle" font-size="24.6" font-family="'Liberation Sans', sans-serif">-1.0</text>
<g transform="translate(69.35 548.2) rotate(-90)"><rect x="-12.43" y="-2.64" width="5.61" height="3.49" fill="#fff"/><rect x="-4.64" y="-2.64" width="5.42" height="3.49" fill="#fff"/></g>
<text x="0" y="0" transform="translate(629.2 64.6) rotate(-90)" text-anchor="middle" font-size="24.6" font-family="'Liberation Sans', sans-serif">0.6</text>
<text x="0" y="0" transform="translate(629.2 147.7) rotate(-90)" text-anchor="middle" font-size="24.6" font-family="'Liberation Sans', sans-serif">0.4</text>
<text x="0" y="0" transform="translate(629.2 230.8) rotate(-90)" text-anchor="middle" font-size="24.6" font-family="'Liberation Sans', sans-serif">0.2</text>
<text x="0" y="0" transform="translate(629.2 314.0) rotate(-90)" text-anchor="middle" font-size="24.6" font-family="'Liberation Sans', sans-serif">0.0</text>
<text x="0" y="0" transform="translate(629.2 397.1) rotate(-90)" text-anchor="middle" font-size="24.6" font-family="'Liberation Sans', sans-serif">-0.2</text>
<text x="0" y="0" transform="translate(629.2 480.3) rotate(-90)" text-anchor="middle" font-size="24.6" font-family="'Liberation Sans', sans-serif">-0.4</text>
<text x="0" y="0" transform="translate(629.2 563.5) rotate(-90)" text-anchor="middle" font-size="24.6" font-family="'Liberation Sans', sans-serif">-0.6</text>
<text x="142.0" y="630.0" text-anchor="middle" font-size="24.6" font-family="'Liberation Sans', sans-serif">800</text>

<text x="241.8" y="630.0" text-anchor="middle" font-size="24.6" font-family="'Liberation Sans', sans-serif">1000</text>
<rect x="215.03" y="627.36" width="5.61" height="3.49" fill="#fff"/><rect x="222.82" y="627.36" width="5.42" height="3.49" fill="#fff"/>
<text x="341.6" y="630.0" text-anchor="middle" font-size="24.6" font-family="'Liberation Sans', sans-serif">1200</text>
<rect x="314.85" y="627.36" width="5.61" height="3.49" fill="#fff"/><rect x="322.64" y="627.36" width="5.42" height="3.49" fill="#fff"/>
<text x="441.5" y="630.0" text-anchor="middle" font-size="24.6" font-family="'Liberation Sans', sans-serif">1400</text>
<rect x="414.67" y="627.36" width="5.61" height="3.49" fill="#fff"/><rect x="422.46" y="627.36" width="5.42" height="3.49" fill="#fff"/>
<text x="541.3" y="630.0" text-anchor="middle" font-size="24.6" font-family="'Liberation Sans', sans-serif">1600</text>
<rect x="514.49" y="627.36" width="5.61" height="3.49" fill="#fff"/><rect x="522.28" y="627.36" width="5.42" height="3.49" fill="#fff"/>
<g stroke="#333" stroke-width="1.4"><line x1="86.3" y1="84.4" x2="99.3" y2="84.4"/><line x1="86.3" y1="239.0" x2="99.3" y2="239.0"/><line x1="86.3" y1="393.6" x2="99.3" y2="393.6"/><line x1="86.3" y1="548.2" x2="99.3" y2="548.2"/><line x1="583.7" y1="64.6" x2="596.6" y2="64.6"/><line x1="583.7" y1="147.7" x2="596.6" y2="147.7"/><line x1="583.7" y1="230.8" x2="596.6" y2="230.8"/><line x1="583.7" y1="314.0" x2="596.6" y2="314.0"/><line x1="583.7" y1="397.1" x2="596.6" y2="397.1"/><line x1="583.7" y1="480.3" x2="596.6" y2="480.3"/><line x1="583.7" y1="563.5" x2="596.6" y2="563.5"/><line x1="142.0" y1="585.3" x2="142.0" y2="598.2"/><line x1="241.8" y1="585.3" x2="241.8" y2="598.2"/><line x1="341.6" y1="585.3" x2="341.6" y2="598.2"/><line x1="441.5" y1="585.3" x2="441.5" y2="598.2"/><line x1="541.3" y1="585.3" x2="541.3" y2="598.2"/></g>
<text x="342" y="679.6" text-anchor="middle" font-size="25" font-family="'Liberation Sans', sans-serif">Year (CE)</text>
<text x="0" y="0" transform="translate(20.0 293.0) rotate(-90)" text-anchor="middle" font-size="25" font-family="'Liberation Sans', sans-serif">Simulated BA (z-scores)</text>
<text x="0" y="0" transform="translate(678.8 292.95) rotate(-90)" text-anchor="middle" font-size="25" font-family="'Liberation Sans', sans-serif">Charcoal (z-scores)</text>
<line x1="135.5" y1="26.7" x2="173" y2="26.7" stroke="#bebebe" stroke-width="3.8" stroke-linecap="round"/>
<line x1="135.5" y1="67" x2="173" y2="67" stroke="#4d6b3b" stroke-width="4.8" stroke-linecap="round"/>
<line x1="135.5" y1="126.5" x2="173" y2="126.5" stroke="#aa5f5a" stroke-width="4.8" stroke-linecap="round"/>
<text x="191.0" y="32.6" font-size="20.85" font-family="'Liberation Sans', sans-serif">Charcoal composite</text>
<text x="191.0" y="69.9" font-size="21" font-family="'Liberation Sans', sans-serif">LAVESI-FIRE burned area (normal fuel)</text>
<text x="191.0" y="129.3" font-size="21" font-family="'Liberation Sans', sans-serif">LAVESI-FIRE burned area (reduced fuel)</text>
<text x="194.85" y="92.8" font-style="italic" font-size="21" font-family="'Liberation Sans', sans-serif">r</text>
<text x="212.4" y="92.8" font-size="21" font-family="'Liberation Sans', sans-serif">= -0.98;</text>
<text x="289.7" y="92.8" font-style="italic" font-size="21" font-family="'Liberation Sans', sans-serif">p</text>
<text x="305.5" y="92.8" font-size="21" font-family="'Liberation Sans', sans-serif">&lt; 0.05</text>
<text x="194.85" y="152.7" font-style="italic" font-size="21" font-family="'Liberation Sans', sans-serif">r</text>
<text x="212.4" y="152.7" font-size="21" font-family="'Liberation Sans', sans-serif">= 0.97;</text>
<text x="282.7" y="152.7" font-style="italic" font-size="21" font-family="'Liberation Sans', sans-serif">p</text>
<text x="299.6" y="152.7" font-size="21" font-family="'Liberation Sans', sans-serif">&lt; 0.05</text></svg>
</body></html>
